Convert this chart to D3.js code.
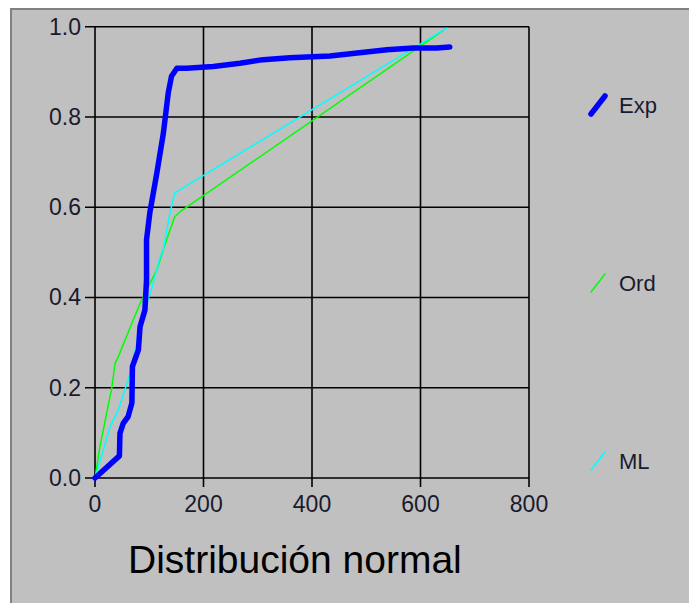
<!DOCTYPE html>
<html>
<head>
<meta charset="utf-8">
<script src="https://cdn.jsdelivr.net/npm/d3@7"></script>
<style>
  html, body { margin: 0; padding: 0; background: #fff; }
  svg { display: block; font-family: "Liberation Sans", Arial, sans-serif; }
</style>
</head>
<body>
<div id="chart"></div>
<script>
// series
const expX = [0, 45, 46, 52, 61, 68, 69, 80, 83, 92, 95, 95, 101, 114, 126, 135, 141, 151, 169, 218, 267, 310, 359, 433, 538, 587, 630, 654];
const expY = [0, 0.049, 0.099, 0.121, 0.136, 0.166, 0.247, 0.284, 0.335, 0.372, 0.439, 0.528, 0.587, 0.676, 0.764, 0.853, 0.890, 0.908, 0.908, 0.912, 0.919, 0.927, 0.931, 0.935, 0.949, 0.953, 0.953, 0.955];
const ordX = [0, 9, 31, 37, 43, 68, 86, 114, 132, 147, 157, 642];
const ordY = [0, 0.069, 0.200, 0.254, 0.269, 0.343, 0.395, 0.461, 0.528, 0.579, 0.590, 0.992];
const mlX = [0, 28, 43, 65, 74, 86, 95, 104, 120, 126, 138, 147, 157, 648];
const mlY = [0, 0.114, 0.151, 0.232, 0.284, 0.343, 0.387, 0.417, 0.490, 0.506, 0.587, 0.631, 0.639, 0.997];

const seriesNames = ["Exp", "Ord", "ML"];
const seriesColors = ["#0000ff", "#00ff00", "#00ffff"];
const xTicks = [0, 200, 400, 600, 800];
const yTicks = [0, 0.2, 0.4, 0.6, 0.8, 1.0];
const title = "Distribución normal";

const width = 689, height = 603;

const svg = d3.select("#chart").append("svg")
  .attr("width", width)
  .attr("height", height);

// panel background with the sunken frame
svg.append("rect").attr("width", width).attr("height", height).attr("fill", "#fff");
svg.append("rect")
  .attr("x", 10).attr("y", 8)
  .attr("width", width - 10).attr("height", height - 8)
  .attr("fill", "#c0c0c0");
svg.append("path")
  .attr("d", `M11,${height} V9 H${width}`)
  .attr("fill", "none")
  .attr("stroke", "#808080")
  .attr("stroke-width", 2);

const x = d3.scaleLinear().domain([0, 800]).range([95, 529]);
const y = d3.scaleLinear().domain([0, 1]).range([478, 26.7]);

// grid
const grid = svg.append("g").attr("stroke", "#000").attr("stroke-width", 1.6);
grid.selectAll("line.v").data(xTicks).join("line")
  .attr("x1", d => x(d)).attr("x2", d => x(d))
  .attr("y1", y(1)).attr("y2", y(0) + 9);
grid.selectAll("line.h").data(yTicks).join("line")
  .attr("x1", x(0) - 10).attr("x2", x(800))
  .attr("y1", d => y(d)).attr("y2", d => y(d));

// tick labels
svg.append("g").selectAll("text").data(yTicks).join("text")
  .attr("x", x(0) - 14)
  .attr("y", d => y(d) + 8)
  .attr("text-anchor", "end")
  .attr("font-size", 23)
  .attr("fill", "#1a1a2e")
  .text(d => d.toFixed(1));

svg.append("g").selectAll("text").data(xTicks).join("text")
  .attr("x", d => x(d))
  .attr("y", 512)
  .attr("text-anchor", "middle")
  .attr("font-size", 23)
  .attr("fill", "#1a1a2e")
  .text(d => d);

// series
const series = [
  { xs: expX, ys: expY, w: 5.5 },
  { xs: ordX, ys: ordY, w: 1.5 },
  { xs: mlX, ys: mlY, w: 1.5 }
];

const line = d3.line().x(d => x(d[0])).y(d => y(d[1]));

// draw thin lines first, thick Exp on top as in the reference
[1, 2, 0].forEach(i => {
  const s = series[i];
  svg.append("path")
    .datum(s.xs.map((v, j) => [v, s.ys[j]]))
    .attr("fill", "none")
    .attr("stroke", seriesColors[i])
    .attr("stroke-width", s.w)
    .attr("stroke-linejoin", "round")
    .attr("stroke-linecap", "round")
    .attr("d", line);
});

// legend
const legendY = [105, 283, 461];
const leg = svg.append("g");
seriesNames.forEach((name, i) => {
  const cy = legendY[i];
  leg.append("line")
    .attr("x1", 591).attr("y1", cy + 9)
    .attr("x2", 605).attr("y2", cy - 9)
    .attr("stroke", seriesColors[i])
    .attr("stroke-width", series[i].w)
    .attr("stroke-linecap", "round");
  leg.append("text")
    .attr("x", 619).attr("y", cy + 8)
    .attr("font-size", 22)
    .attr("fill", "#1a1a2e")
    .text(name);
});

svg.append("text")
  .attr("x", 128).attr("y", 573)
  .attr("font-size", 39)
  .attr("fill", "#000")
  .text(title);
</script>
</body>
</html>
